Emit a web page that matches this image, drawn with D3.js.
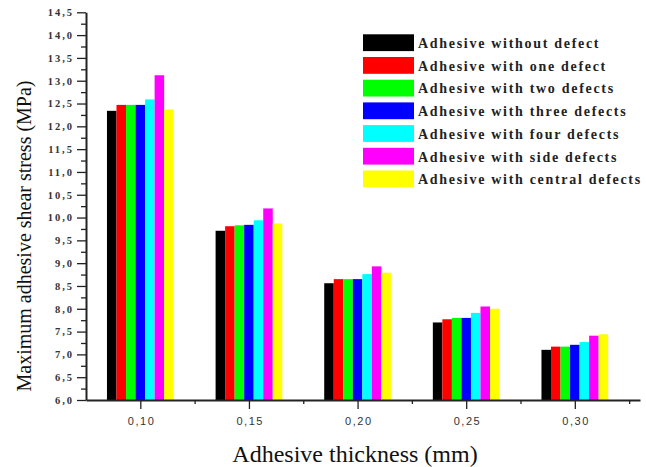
<!DOCTYPE html>
<html><head><meta charset="utf-8">
<script src="https://cdn.jsdelivr.net/npm/d3@7"></script>
<style>body{margin:0;background:#fff}svg{display:block}</style>
</head><body>
<script>
// Adhesive thickness groups (mm)
const thickness = [0.10, 0.15, 0.20, 0.25, 0.30];

// Maximum adhesive shear stress (MPa) for each configuration
const seriesNames = [
  "Adhesive without defect",
  "Adhesive with one defect",
  "Adhesive with two defects",
  "Adhesive with three defects",
  "Adhesive with four defects",
  "Adhesive with side defects",
  "Adhesive with central defects"
];
const seriesColors = ["#000000", "#ff0000", "#00ff00", "#0000ff", "#00ffff", "#ff00ff", "#ffff00"];
const withoutDefect  = [12.34, 9.71, 8.56, 7.70, 7.10];
const oneDefect      = [12.47, 9.81, 8.65, 7.77, 7.17];
const twoDefects     = [12.47, 9.83, 8.65, 7.80, 7.17];
const threeDefects   = [12.47, 9.84, 8.65, 7.80, 7.21];
const fourDefects    = [12.59, 9.94, 8.76, 7.91, 7.27];
const sideDefects    = [13.12, 10.20, 8.93, 8.05, 7.41];
const centralDefects = [12.37, 9.87, 8.79, 8.00, 7.44];
const seriesValues = [withoutDefect, oneDefect, twoDefects, threeDefects, fourDefects, sideDefects, centralDefects];

// Axis ticks
const yMajorTicks = [6.0, 6.5, 7.0, 7.5, 8.0, 8.5, 9.0, 9.5, 10.0, 10.5, 11.0, 11.5, 12.0, 12.5, 13.0, 13.5, 14.0, 14.5];
const yMinorTicks = [6.25, 6.75, 7.25, 7.75, 8.25, 8.75, 9.25, 9.75, 10.25, 10.75, 11.25, 11.75, 12.25, 12.75, 13.25, 13.75, 14.25];
const xMinorTicks = [0.125, 0.175, 0.225, 0.275, 0.325];

const W = 646, H = 467;
const svg = d3.select("body").append("svg").attr("width", W).attr("height", H);

const x = d3.scaleLinear().domain([0.075, 0.33]).range([86, 640]);
const y = d3.scaleLinear().domain([6.0, 14.5]).range([400, 12.3]);

const comma = v => d3.format(".1f")(v).replace(".", ",");
const comma2 = v => d3.format(".2f")(v).replace(".", ",");

// Bars: seven series side by side around each thickness tick
const groupWidth = (x(0.15) - x(0.10)) * 0.614;
const inner = d3.scaleBand().domain(d3.range(seriesNames.length)).range([-groupWidth / 2, groupWidth / 2]).padding(0);

const bars = svg.append("g");
seriesValues.forEach((vals, si) => {
  bars.selectAll(null).data(vals).join("rect")
    .attr("x", (d, i) => x(thickness[i]) + inner(si))
    .attr("width", inner.bandwidth())
    .attr("y", d => y(d))
    .attr("height", d => y(6.0) - y(d))
    .attr("fill", seriesColors[si]);
});

// Y axis
const yAxis = svg.append("g").attr("transform", `translate(${x(0.075)},0)`)
  .call(d3.axisLeft(y).tickValues(yMajorTicks).tickSize(9).tickSizeOuter(0).tickPadding(3).tickFormat(comma));
svg.append("g").attr("transform", `translate(${x(0.075)},0)`)
  .call(d3.axisLeft(y).tickValues(yMinorTicks).tickSize(5).tickSizeOuter(0).tickFormat(""))
  .select(".domain").remove();
yAxis.select(".domain").attr("stroke", "#222").attr("stroke-width", 2);
yAxis.selectAll("text")
  .attr("font-family", "'Liberation Serif', serif").attr("font-weight", "bold")
  .attr("font-size", 10.5).attr("letter-spacing", 2).attr("fill", "#333");

// X axis
const xAxis = svg.append("g").attr("transform", `translate(0,${y(6.0)})`)
  .call(d3.axisBottom(x).tickValues(thickness).tickSize(9).tickSizeOuter(0).tickPadding(7.8).tickFormat(comma2));
svg.append("g").attr("transform", `translate(0,${y(6.0)})`)
  .call(d3.axisBottom(x).tickValues(xMinorTicks).tickSize(4).tickSizeOuter(0).tickFormat(""))
  .select(".domain").remove();
xAxis.select(".domain").attr("stroke", "#222").attr("stroke-width", 2);
xAxis.selectAll("text")
  .attr("font-family", "'Liberation Sans', Arial, sans-serif")
  .attr("font-size", 11).attr("letter-spacing", 1.5).attr("fill", "#333")
  .attr("dx", 0.75);
svg.selectAll(".tick line").attr("stroke", "#222").attr("stroke-width", 1.3);

// Axis titles
svg.append("text")
  .attr("x", 355).attr("y", 462)
  .attr("text-anchor", "middle")
  .attr("font-family", "'Liberation Serif', 'Times New Roman', serif")
  .attr("font-size", 24).attr("fill", "#111")
  .text("Adhesive thickness (mm)");

svg.append("text")
  .attr("transform", "translate(31,236) rotate(-90)")
  .attr("text-anchor", "middle")
  .attr("font-family", "'Liberation Serif', 'Times New Roman', serif")
  .attr("font-size", 20).attr("fill", "#111")
  .text("Maximum adhesive shear stress (MPa)");

// Legend
const legend = svg.append("g").attr("transform", "translate(363,34.3)");
seriesNames.forEach((name, i) => {
  const row = legend.append("g").attr("transform", `translate(0,${i * 22.7})`);
  row.append("rect").attr("width", 51).attr("height", 16.8).attr("fill", seriesColors[i]);
  row.append("text")
    .attr("x", 55).attr("y", 13.8)
    .attr("font-family", "'Liberation Serif', 'Times New Roman', serif")
    .attr("font-weight", "bold").attr("font-size", 14)
    .attr("letter-spacing", 1.7).attr("fill", "#222")
    .text(name);
});
</script>
</body></html>
